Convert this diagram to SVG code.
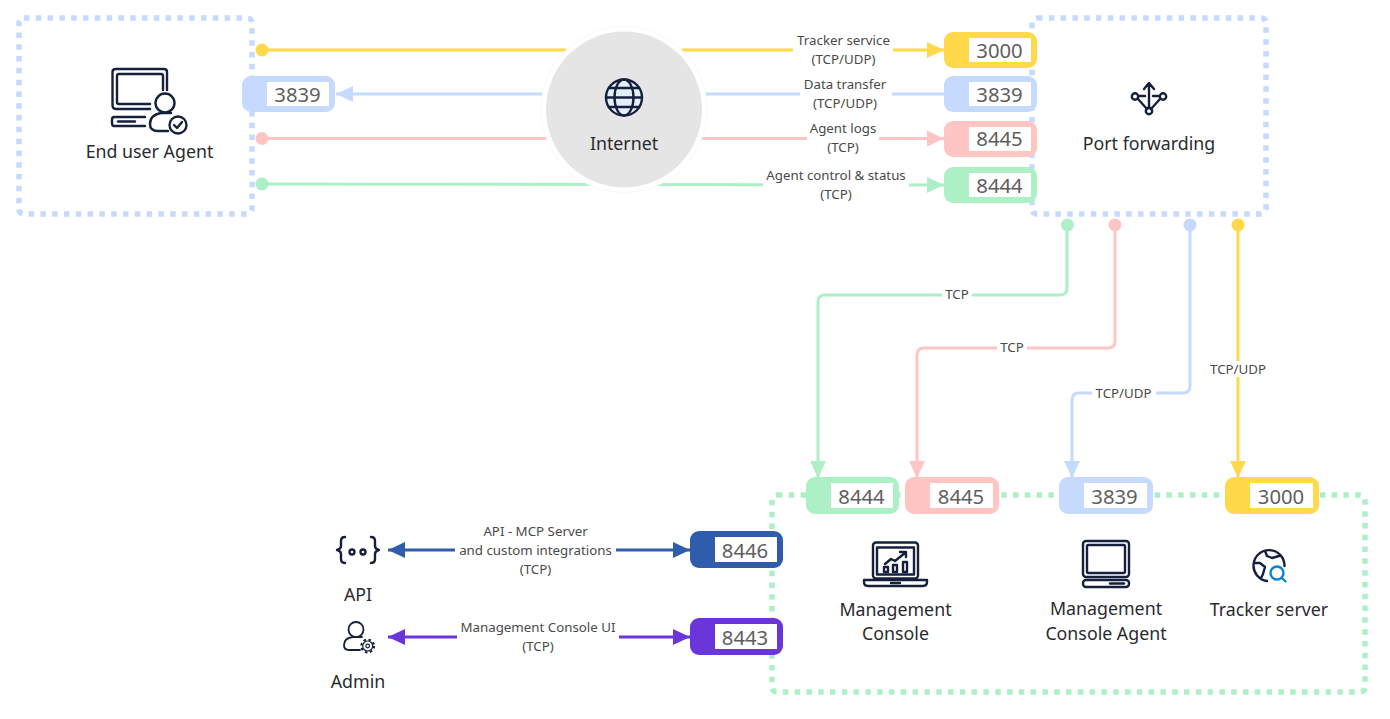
<svg xmlns="http://www.w3.org/2000/svg" width="1390" height="719" viewBox="0 0 1390 719">
<style>
text{font-family:"Noto Sans","Open Sans","DejaVu Sans",sans-serif;text-anchor:middle}
.t{font-size:17.8px;fill:#2b2b2f}
.l{font-size:13.300px;fill:#4a4a4a}
.p{font-size:20.300px;fill:#5e5e5e}
.d{fill:none;stroke-width:5.500;stroke-dasharray:5.500 6.300}
.c{fill:none;stroke-width:3}
.i{fill:none;stroke:#16203c;stroke-width:2.400;stroke-linejoin:round;stroke-linecap:round}
.a{fill:none;stroke:#16203c;stroke-width:1.800;stroke-linejoin:round;stroke-linecap:round}
.y{stroke:#ffd94a}.yf{fill:#ffd94a}
.b{stroke:#c5dafe}.bf{fill:#c5dafe}
.r{stroke:#ffc5c3}.rf{fill:#ffc5c3}
.g{stroke:#adf0c6}.gf{fill:#adf0c6}
.n{stroke:#2f5dab}.nf{fill:#2f5dab}
.v{stroke:#6a35d9}.vf{fill:#6a35d9}
.w{fill:#fff}
</style>
<defs>
<marker id="ay" markerUnits="userSpaceOnUse" markerWidth="18" markerHeight="18" refX="17" refY="9" orient="auto"><path d="M0 1L17 9L0 17Z" class="yf"/></marker>
<marker id="ab" markerUnits="userSpaceOnUse" markerWidth="18" markerHeight="18" refX="17" refY="9" orient="auto"><path d="M0 1L17 9L0 17Z" class="bf"/></marker>
<marker id="ar" markerUnits="userSpaceOnUse" markerWidth="18" markerHeight="18" refX="17" refY="9" orient="auto"><path d="M0 1L17 9L0 17Z" class="rf"/></marker>
<marker id="ag" markerUnits="userSpaceOnUse" markerWidth="18" markerHeight="18" refX="17" refY="9" orient="auto"><path d="M0 1L17 9L0 17Z" class="gf"/></marker>
<marker id="an" markerUnits="userSpaceOnUse" markerWidth="18" markerHeight="18" refX="17" refY="9" orient="auto"><path d="M0 1L17 9L0 17Z" class="nf"/></marker>
<marker id="av" markerUnits="userSpaceOnUse" markerWidth="18" markerHeight="18" refX="17" refY="9" orient="auto"><path d="M0 1L17 9L0 17Z" class="vf"/></marker>
</defs>

<g id="zones">
<rect id="zone-end-user" x="19" y="18" width="233" height="196" rx="5" class="d b"/>
<rect id="zone-port-forwarding" x="1032" y="18" width="234" height="196" rx="5" class="d b"/>
<rect id="zone-server" x="772" y="495" width="593" height="197" rx="5" class="d g"/>
</g>

<g id="connectors">
<path d="M262 50H944" class="c y" marker-end="url(#ay)"/>
<path d="M944 94H336" class="c b" marker-end="url(#ab)"/>
<path d="M262 138.500H944" class="c r" marker-end="url(#ar)"/>
<path d="M262 184L944 185" class="c g" marker-end="url(#ag)"/>
<path d="M1067 225V288Q1067 295 1060 295H825Q818 295 818 302V478" class="c g" marker-end="url(#ag)"/>
<path d="M1115 225V341Q1115 348 1108 348H924Q917 348 917 355V478" class="c r" marker-end="url(#ar)"/>
<path d="M1190 225V386Q1190 393 1183 393H1079Q1072 393 1072 400V478" class="c b" marker-end="url(#ab)"/>
<path d="M1238 225V478" class="c y" marker-end="url(#ay)"/>
<path d="M540 550H388" class="c n" marker-end="url(#an)"/>
<path d="M540 550H690" class="c n" marker-end="url(#an)"/>
<path d="M540 637H388" class="c v" marker-end="url(#av)"/>
<path d="M540 637H690" class="c v" marker-end="url(#av)"/>
<circle cx="262" cy="50" r="6.500" class="yf"/>
<circle cx="262" cy="138.500" r="6.500" class="rf"/>
<circle cx="262" cy="184" r="6.500" class="gf"/>
<circle cx="1067.500" cy="225" r="6.500" class="gf"/>
<circle cx="1115" cy="225" r="6.500" class="rf"/>
<circle cx="1190" cy="225" r="6.500" class="bf"/>
<circle cx="1238" cy="225" r="6.500" class="yf"/>
</g>

<g id="connector-labels">
<rect x="793" y="32" width="100" height="36" class="w"/><text x="843.500" y="45" class="l">Tracker service</text><text x="843.500" y="64" class="l">(TCP/UDP)</text>
<rect x="800" y="76" width="92" height="36" class="w"/><text x="845" y="89" class="l">Data transfer</text><text x="845" y="108" class="l">(TCP/UDP)</text>
<rect x="807" y="120" width="72" height="36" class="w"/><text x="843" y="133" class="l">Agent logs</text><text x="843" y="152" class="l">(TCP)</text>
<rect x="763" y="167" width="146" height="36" class="w"/><text x="836" y="180" class="l">Agent control &amp; status</text><text x="836" y="199" class="l">(TCP)</text>
<rect x="942" y="288" width="30" height="14" class="w"/><text x="957" y="299" class="l">TCP</text>
<rect x="997" y="341" width="30" height="14" class="w"/><text x="1012" y="352" class="l">TCP</text>
<rect x="1092" y="386" width="64" height="14" class="w"/><text x="1123.500" y="398" class="l">TCP/UDP</text>
<rect x="1206" y="361" width="64" height="16" class="w"/><text x="1238" y="374" class="l">TCP/UDP</text>
<rect x="455" y="524" width="161" height="54" class="w"/><text x="535.500" y="536" class="l">API - MCP Server</text><text x="535.500" y="555" class="l">and custom integrations</text><text x="535.500" y="574" class="l">(TCP)</text>
<rect x="457" y="620" width="162" height="36" class="w"/><text x="538" y="632" class="l">Management Console UI</text><text x="538" y="651" class="l">(TCP)</text>
</g>

<g id="node-end-user">
<path d="M167 90V72Q167 69 164 69H116Q112.500 69 112.500 72V105Q112.500 109 116 109H150" class="i"/>
<path d="M163 90V76Q163 74 161 74H119Q117 74 117 76V102Q117 104 119 104H150" class="i"/>
<path d="M145 117H114Q112 117 112 120V123Q112 126 114 126H145" class="i"/>
<path d="M118 121.500H135" class="i"/>
<circle cx="165" cy="103" r="9.500" class="i"/>
<path d="M168 131H158Q150 131 150 124Q150 115 161 113H171" class="i"/>
<circle cx="178" cy="125" r="8.500" class="i"/>
<path d="M174 125L177 128L182 122" class="i"/>
<text x="149.500" y="158" class="t">End user Agent</text>
</g>

<g id="node-internet">
<circle cx="624" cy="109.500" r="83" fill="#fff" stroke="#f8f8f8"/>
<circle cx="624" cy="109.500" r="78" fill="#e5e5e5"/>
<circle cx="624" cy="97.500" r="18" fill="#e3eefc" stroke="#16203c" stroke-width="2.400"/>
<ellipse cx="624" cy="97.500" rx="9.500" ry="18" class="i"/>
<path d="M606 97.500H642M609 88H639M609 107H639" class="i"/>
<text x="624" y="150" class="t">Internet</text>
</g>

<g id="node-port-forwarding">
<path d="M1149 108V84M1144 89L1149 83L1154 89M1147 109L1138 99M1151 109L1160 99M1139 96H1145M1153 96H1159" class="i"/>
<circle cx="1135" cy="96.500" r="3.200" class="i"/>
<circle cx="1163" cy="96.500" r="3.200" class="i"/>
<circle cx="1149" cy="111" r="3.200" class="i"/>
<text x="1149" y="150" class="t">Port forwarding</text>
</g>

<g id="node-management-console">
<rect x="873" y="542.500" width="45" height="36" rx="3" class="i"/>
<rect x="877" y="547.500" width="37" height="27" class="i"/>
<path d="M864 580H927V582Q927 586 923 586H868Q864 586 864 582Z" class="i"/>
<path d="M891 583H900" class="i"/>
<path d="M885 564L891 559L895 561L905 553M900 552H906V557" class="i"/>
<rect x="884" y="567" width="4" height="5" class="i"/>
<rect x="893" y="565" width="4" height="7" class="i"/>
<rect x="903" y="562" width="4" height="10" class="i"/>
<text x="895.500" y="616" class="t">Management</text>
<text x="895.500" y="640" class="t">Console</text>
</g>

<g id="node-management-console-agent">
<rect x="1083" y="541" width="46" height="36" rx="3" class="i"/>
<rect x="1087" y="545" width="38" height="28" rx="1.500" class="i"/>
<rect x="1083" y="580" width="46" height="7" rx="3" class="i"/>
<path d="M1110 583.500H1124" class="i"/>
<text x="1106" y="615" class="t">Management</text>
<text x="1106" y="640" class="t">Console Agent</text>
</g>

<g id="node-tracker-server">
<path d="M1284.500 566A15.500 15.500 0 1 0 1267 581M1265 551L1267 556L1272 558L1279 556M1254 563L1260 563L1265 567L1263 574L1261 578" class="i"/>
<circle cx="1277" cy="573" r="6.500" fill="none" stroke="#0b84d8" stroke-width="2.400"/>
<path d="M1282 578L1285.500 581.500" fill="none" stroke="#0b84d8" stroke-width="2.400" stroke-linecap="round"/>
<text x="1269" y="616" class="t">Tracker server</text>
</g>

<g id="node-api">
<path d="M345 537Q341 537 341 541V546Q341 549 337 550Q341 551 341 554V559Q341 563 345 563M371 537Q375 537 375 541V546Q375 549 379 550Q375 551 375 554V559Q375 563 371 563" class="i"/>
<circle cx="352" cy="552" r="2.500" class="i"/>
<circle cx="363" cy="552" r="2.500" class="i"/>
<text x="358" y="601" class="t">API</text>
</g>

<g id="node-admin">
<circle cx="356" cy="629.500" r="7.500" class="a"/>
<path d="M360 650H349Q344 650 344 645Q344 638 353 637H362" class="a"/>
<circle cx="367.700" cy="646" r="6.400" fill="none" stroke="#16203c" stroke-width="2" stroke-dasharray="2.500 2.530"/>
<circle cx="367.700" cy="646" r="5" fill="none" stroke="#16203c" stroke-width="1.200"/>
<circle cx="367.700" cy="646" r="1.800" fill="none" stroke="#16203c" stroke-width="1.200"/>
<text x="358" y="688" class="t">Admin</text>
</g>

<g id="port-3000-top"><rect x="944" y="32" width="93" height="36" rx="9" class="yf"/><rect x="969" y="38" width="62" height="24" class="w"/><text x="999.500" y="58" class="p">3000</text></g>
<g id="port-3839-top"><rect x="944" y="76" width="93" height="36" rx="9" class="bf"/><rect x="969" y="82" width="62" height="24" class="w"/><text x="999.500" y="102" class="p">3839</text></g>
<g id="port-8445-top"><rect x="944" y="121" width="93" height="36" rx="9" class="rf"/><rect x="969" y="127" width="62" height="24" class="w"/><text x="999.500" y="146" class="p">8445</text></g>
<g id="port-8444-top"><rect x="944" y="167" width="93" height="36" rx="9" class="gf"/><rect x="969" y="173" width="62" height="24" class="w"/><text x="999.500" y="193" class="p">8444</text></g>
<g id="port-3839-left"><rect x="242" y="76" width="93" height="36" rx="9" class="bf"/><rect x="267" y="82" width="62" height="24" class="w"/><text x="297.500" y="102" class="p">3839</text></g>
<g id="port-8444-bottom"><rect x="806" y="477" width="93" height="37" rx="9" class="gf"/><rect x="831" y="483" width="62" height="25" class="w"/><text x="861.500" y="504" class="p">8444</text></g>
<g id="port-8445-bottom"><rect x="905" y="477" width="94" height="37" rx="9" class="rf"/><rect x="930" y="483" width="63" height="25" class="w"/><text x="961" y="504" class="p">8445</text></g>
<g id="port-3839-bottom"><rect x="1059" y="477" width="94" height="37" rx="9" class="bf"/><rect x="1084" y="483" width="63" height="25" class="w"/><text x="1114.500" y="504" class="p">3839</text></g>
<g id="port-3000-bottom"><rect x="1225" y="477" width="94" height="37" rx="9" class="yf"/><rect x="1250" y="483" width="63" height="25" class="w"/><text x="1281" y="504" class="p">3000</text></g>
<g id="port-8446"><rect x="690" y="531" width="93" height="37" rx="9" class="nf"/><rect x="715" y="537" width="62" height="25" class="w"/><text x="745" y="558" class="p">8446</text></g>
<g id="port-8443"><rect x="690" y="618" width="93" height="37" rx="9" class="vf"/><rect x="715" y="624" width="62" height="25" class="w"/><text x="745" y="645" class="p">8443</text></g>
</svg>
